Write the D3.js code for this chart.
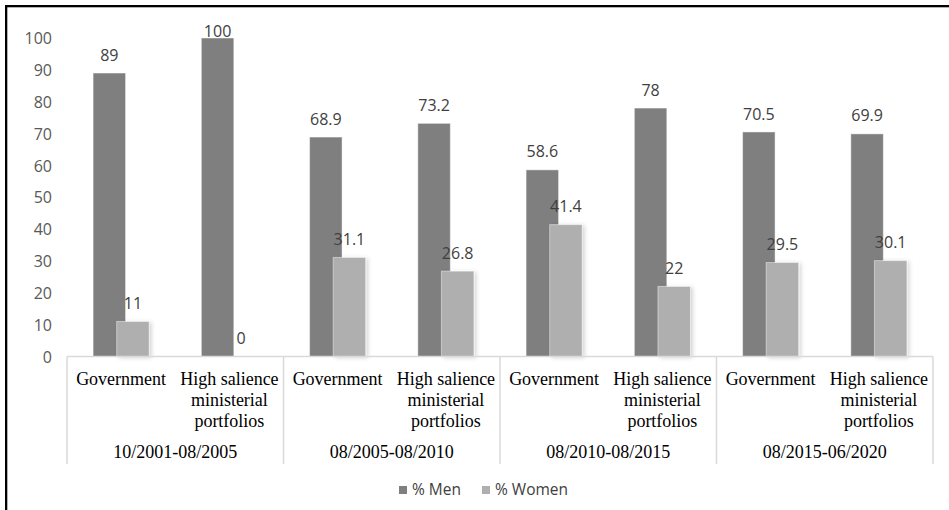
<!DOCTYPE html>
<html>
<head>
<meta charset="utf-8">
<script src="https://cdn.jsdelivr.net/npm/d3@7"></script>
<style>
  html, body { margin: 0; padding: 0; background: #fff; }
  svg { display: block; }
</style>
</head>
<body>
<svg id="chart" width="949" height="510"></svg>
<script>
// Periods (outer axis level) and position types (inner axis level)
const periods = ["10/2001-08/2005", "08/2005-08/2010", "08/2010-08/2015", "08/2015-06/2020"];
const positions = ["Government", "High salience ministerial portfolios"];
const positionLines = [["Government"], ["High salience", "ministerial", "portfolios"]];

// Shares per period/position, in order: period1-Gov, period1-High, period2-Gov, ...
const menShare = [89, 100, 68.9, 73.2, 58.6, 78, 70.5, 69.9];
const womenShare = [11, 0, 31.1, 26.8, 41.4, 22, 29.5, 30.1];

const yTicks = [0, 10, 20, 30, 40, 50, 60, 70, 80, 90, 100];
const seriesNames = ["% Men", "% Women"];
const seriesColors = ["#7f7f7f", "#afafaf"];

const svg = d3.select("#chart");

// Shadow used by the lighter series
const defs = svg.append("defs");
const f = defs.append("filter").attr("id", "softShadow")
  .attr("x", "-30%").attr("y", "-30%").attr("width", "160%").attr("height", "160%");
f.append("feDropShadow").attr("dx", 2).attr("dy", 1).attr("stdDeviation", 2.2)
  .attr("flood-color", "#000").attr("flood-opacity", 0.18);

// Scales
const y = d3.scaleLinear().domain([0, 100]).range([356.5, 38]);
const xPeriod = d3.scaleBand().domain(periods).range([67, 933]).padding(0);
const xPos = d3.scaleBand().domain(positions).range([0, xPeriod.bandwidth()]).padding(0);

const catW = xPos.bandwidth();
const barW = catW * 0.3;
const seriesOffset = [-catW * 0.109, catW * 0.109];

// Flattened rows
const rows = [];
periods.forEach((p, i) => {
  positions.forEach((c, j) => {
    const k = i * positions.length + j;
    rows.push({ period: p, pos: c, center: xPeriod(p) + xPos(c) + catW / 2,
                values: [menShare[k], womenShare[k]] });
  });
});

// Y axis labels (no axis line, no gridlines)
const yAxis = d3.axisLeft(y).tickValues(yTicks).tickSize(0).tickPadding(0);
const yG = svg.append("g").attr("transform", "translate(52,0)").call(yAxis);
yG.select(".domain").remove();
yG.selectAll("text")
  .attr("font-family", "'Open Sans', sans-serif")
  .attr("font-size", 16)
  .attr("fill", "#595959")
  .attr("dy", "0.35em");

// Bars: men first, women drawn on top
seriesNames.forEach((name, s) => {
  const g = svg.append("g").attr("class", "series-" + s);
  if (s === 1) g.attr("filter", "url(#softShadow)");
  g.selectAll("rect").data(rows).join("rect")
    .attr("x", d => d.center + seriesOffset[s] - barW / 2)
    .attr("y", d => y(d.values[s]))
    .attr("width", barW)
    .attr("height", d => y(0) - y(d.values[s]))
    .attr("fill", seriesColors[s])
    .attr("stroke", "#ffffff")
    .attr("stroke-opacity", 0.45)
    .attr("stroke-width", 1);
});

// Value labels above each bar
seriesNames.forEach((name, s) => {
  svg.append("g").selectAll("text").data(rows).join("text")
    .attr("x", d => d.center + seriesOffset[s])
    .attr("y", d => Math.max(y(d.values[s]) - 18, 31))
    .attr("dy", "0.35em")
    .attr("text-anchor", "middle")
    .attr("font-family", "'Open Sans', sans-serif")
    .attr("font-size", 16)
    .attr("fill", "#404040")
    .text(d => d.values[s]);
});

// Category axis line
svg.append("line")
  .attr("x1", xPeriod.range()[0]).attr("x2", xPeriod.range()[1])
  .attr("y1", y(0)).attr("y2", y(0))
  .attr("stroke", "#d9d9d9").attr("stroke-width", 1.5);

// Period separators
const seps = periods.map(p => xPeriod(p)).concat([xPeriod.range()[1]]);
svg.append("g").selectAll("line").data(seps).join("line")
  .attr("x1", d => d).attr("x2", d => d)
  .attr("y1", y(0)).attr("y2", 464)
  .attr("stroke", "#d9d9d9").attr("stroke-width", 1.5);

// Inner category labels (multi-line)
const catG = svg.append("g")
  .attr("font-family", "'Liberation Serif', 'Times New Roman', serif")
  .attr("font-size", 18)
  .attr("fill", "#000");
rows.forEach((d, i) => {
  const lines = positionLines[positions.indexOf(d.pos)];
  const t = catG.append("text").attr("text-anchor", "middle");
  lines.forEach((ln, li) => {
    t.append("tspan").attr("x", d.center).attr("y", 385 + li * 21).text(ln);
  });
});

// Period labels
svg.append("g").selectAll("text").data(periods).join("text")
  .attr("x", d => xPeriod(d) + xPeriod.bandwidth() / 2)
  .attr("y", 458)
  .attr("text-anchor", "middle")
  .attr("font-family", "'Liberation Serif', 'Times New Roman', serif")
  .attr("font-size", 18)
  .attr("fill", "#000")
  .text(d => d);

// Legend
const legendX = [399, 482];
const lg = svg.append("g");
seriesNames.forEach((name, s) => {
  lg.append("rect").attr("x", legendX[s]).attr("y", 486).attr("width", 8).attr("height", 8)
    .attr("fill", seriesColors[s]);
  lg.append("text").attr("x", legendX[s] + 13).attr("y", 490).attr("dy", "0.35em")
    .attr("font-family", "'Open Sans', sans-serif").attr("font-size", 15.5)
    .attr("fill", "#404040").text(name);
});

// Frame edges (left and top)
svg.append("rect").attr("x", 5).attr("y", 5).attr("width", 944).attr("height", 2.3).attr("fill", "#000");
svg.append("rect").attr("x", 5).attr("y", 5).attr("width", 2.3).attr("height", 505).attr("fill", "#000");
</script>
</body>
</html>
